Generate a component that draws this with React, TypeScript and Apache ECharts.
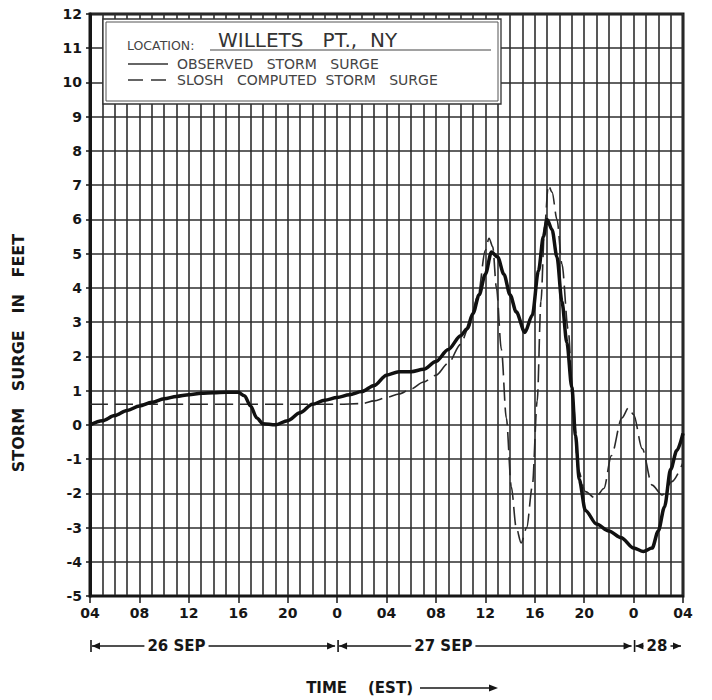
import React, { useEffect, useRef } from "react";
import * as echarts from "echarts";

// ---- data (hours after 04 EST, 26 Sep) ----
const xTickLabels = ["04", "08", "12", "16", "20", "0", "04", "08", "12", "16", "20", "0", "04"];
const yTickMin = -5;
const yTickMax = 12;

const observedHours = [0, 1, 2, 3, 4, 5, 6, 7, 8, 9, 10, 11, 12, 12.5, 13, 13.5, 14, 15, 16, 17, 18, 19, 20, 21, 22, 23, 24, 25, 26, 27, 28, 29, 30, 30.5, 31, 31.5, 32, 32.5, 33, 33.5, 34, 34.5, 35.2, 35.8, 36.3, 36.7, 37, 37.4, 37.8, 38.2, 38.6, 39, 39.3, 39.6, 40.1, 41, 42, 43, 44, 44.8, 45.5, 46, 46.5, 47, 47.5, 48];
const observedSurge = [0, 0.12, 0.27, 0.42, 0.55, 0.66, 0.76, 0.83, 0.88, 0.92, 0.94, 0.95, 0.95, 0.85, 0.55, 0.2, 0.03, 0.0, 0.12, 0.35, 0.6, 0.72, 0.8, 0.88, 0.97, 1.15, 1.45, 1.55, 1.55, 1.62, 1.85, 2.2, 2.6, 2.8, 3.25, 3.8, 4.4, 5.05, 4.9, 4.4, 3.8, 3.3, 2.7, 3.2, 4.5, 5.5, 6.0, 5.7, 4.9, 3.6, 2.4, 1.1, -0.3, -1.6, -2.5, -2.9, -3.1, -3.3, -3.6, -3.7, -3.6, -3.1, -2.4, -1.3, -0.75, -0.25];

const sloshHours = [0, 4, 8, 12, 16, 20, 22, 23, 24, 25, 26, 27, 28, 29, 30, 30.6, 31.4, 32, 32.3, 32.6, 32.9, 33.3, 33.7, 34.1, 34.5, 34.9, 35.35, 35.8, 36.2, 36.5, 36.8, 37.1, 37.4, 37.8, 38.2, 38.7, 39.1, 39.5, 40.1, 40.9, 41.6, 42.2, 43.05, 43.6, 44, 44.7, 45.5, 46.3, 47.1, 48];
const sloshSurge = [0.6, 0.6, 0.6, 0.6, 0.6, 0.6, 0.62, 0.7, 0.8, 0.9, 1.05, 1.25, 1.45, 1.8, 2.35, 2.8, 3.75, 5.1, 5.45, 5.2, 4.0, 2.2, 0.2, -1.8, -3.0, -3.45, -3.0, -1.8, 0.7, 3.6, 5.8, 7.0, 6.8, 6.0, 4.7, 2.8, 0.7, -1.3, -1.95, -2.14, -1.86, -0.9, 0.2, 0.5, 0.3, -0.7, -1.76, -2.05, -1.66, -1.1];

const dayLabels = ["26 SEP", "27 SEP", "28"];
const dayStartHours = [0, 20, 44];
const dayEndHours = [20, 44, 48];
const dayLabelHours = [7.0, 28.6, 45.9];

const FONT = "DejaVu Sans";
const INK = "#161616";

export default function App() {
  const ref = useRef<HTMLDivElement>(null);

  useEffect(() => {
    if (!ref.current) return;
    const chart = echarts.init(ref.current, null, { renderer: "svg" });

    const option: any = {
      animation: false,
      backgroundColor: "#ffffff",
      textStyle: { fontFamily: FONT },
      grid: {
        left: 90,
        top: 14,
        right: 29,
        bottom: 104,
        show: true,
        borderColor: INK,
        borderWidth: 3,
        backgroundColor: "transparent",
      },
      xAxis: {
        type: "value",
        min: 0,
        max: 48,
        interval: 4,
        axisLine: { show: true, onZero: false, lineStyle: { color: INK, width: 2 } },
        axisTick: { show: true, length: 7, lineStyle: { color: INK, width: 1.5 } },
        minorTick: { show: false, splitNumber: 4 },
        splitLine: { show: true, lineStyle: { color: "#2e2e2e", width: 1.6 } },
        minorSplitLine: { show: true, lineStyle: { color: "#2e2e2e", width: 1.6 } },
        axisLabel: {
          margin: 10,
          color: INK,
          fontSize: 14,
          fontWeight: "bold",
          fontFamily: FONT,
          formatter: (v: number) => xTickLabels[Math.round(v / 4)] ?? "",
        },
      },
      yAxis: {
        type: "value",
        min: yTickMin,
        max: yTickMax,
        interval: 1,
        axisLine: { show: true, lineStyle: { color: INK, width: 3 } },
        axisTick: { show: true, length: 4, lineStyle: { color: INK, width: 1.5 } },
        splitLine: { show: true, lineStyle: { color: "#2e2e2e", width: 1.6 } },
        axisLabel: {
          margin: 8,
          color: INK,
          fontSize: 14,
          fontWeight: "bold",
          fontFamily: FONT,
          formatter: (v: number) => String(v),
        },
      },
      series: [
        {
          name: "SLOSH COMPUTED STORM SURGE",
          type: "line",
          data: sloshHours.map((h, i) => [h, sloshSurge[i]]),
          showSymbol: false,
          smooth: 0.3,
          smoothMonotone: "x",
          lineStyle: { color: "#2a2a2a", width: 1.6, type: [18, 7] },
          z: 3,
        },
        {
          name: "OBSERVED STORM SURGE",
          type: "line",
          data: observedHours.map((h, i) => [h, observedSurge[i]]),
          showSymbol: false,
          smooth: 0.3,
          smoothMonotone: "x",
          lineStyle: { color: "#111", width: 3.5 },
          z: 4,
        },
      ],
    };
    chart.setOption(option);

    const px = (h: number) => (chart.convertToPixel({ gridIndex: 0 }, [h, 0]) as number[])[0];
    const elements: any[] = [];

    // y axis title
    elements.push({
      type: "text",
      x: 18,
      y: 353,
      rotation: Math.PI / 2,
      style: {
        text: "STORM   SURGE   IN   FEET",
        fill: INK,
        fontSize: 16,
        fontWeight: "bold",
        fontFamily: FONT,
        align: "center",
        verticalAlign: "middle",
      },
      z: 50,
    });

    // legend box
    elements.push({
      type: "rect",
      shape: { x: 103, y: 19, width: 398, height: 85 },
      style: { fill: "#ffffff", stroke: "#333", lineWidth: 1.3 },
      z: 100,
    });
    elements.push({
      type: "rect",
      shape: { x: 106, y: 22, width: 392, height: 79 },
      style: { fill: "none", stroke: "#555", lineWidth: 1 },
      z: 101,
    });
    elements.push({
      type: "text",
      x: 127,
      y: 45,
      style: { text: "LOCATION:", fill: "#444", fontSize: 12.5, fontFamily: FONT, verticalAlign: "middle" },
      z: 102,
    });
    elements.push({
      type: "text",
      x: 218,
      y: 40,
      style: { text: "WILLETS   PT.,  NY", fill: "#333", fontSize: 20, fontFamily: FONT, verticalAlign: "middle" },
      z: 102,
    });
    elements.push({
      type: "line",
      shape: { x1: 210, y1: 50, x2: 491, y2: 50 },
      style: { stroke: "#444", lineWidth: 1.2 },
      z: 102,
    });
    elements.push({
      type: "line",
      shape: { x1: 128, y1: 64, x2: 168, y2: 64 },
      style: { stroke: "#333", lineWidth: 1.4 },
      z: 102,
    });
    elements.push({
      type: "text",
      x: 177,
      y: 64,
      style: { text: "OBSERVED   STORM   SURGE", fill: "#444", fontSize: 14, fontFamily: FONT, verticalAlign: "middle" },
      z: 102,
    });
    elements.push({
      type: "line",
      shape: { x1: 128, y1: 80, x2: 168, y2: 80 },
      style: { stroke: "#333", lineWidth: 1.4, lineDash: [15, 8] },
      z: 102,
    });
    elements.push({
      type: "text",
      x: 177,
      y: 80,
      style: { text: "SLOSH   COMPUTED  STORM   SURGE", fill: "#444", fontSize: 14, fontFamily: FONT, verticalAlign: "middle" },
      z: 102,
    });

    // date row
    const ry = 646;
    const arrow = (x: number, dir: number) => ({
      type: "polygon",
      shape: { points: [[x, ry], [x - dir * 8, ry - 3.5], [x - dir * 8, ry + 3.5]] },
      style: { fill: INK },
      z: 50,
    });
    dayLabels.forEach((lab, i) => {
      const x0 = px(dayStartHours[i]) + 2;
      const x1 = px(dayEndHours[i]) - 2;
      elements.push({
        type: "line",
        shape: { x1: x0, y1: ry, x2: x1, y2: ry },
        style: { stroke: INK, lineWidth: 1.5 },
        z: 50,
      });
      elements.push(arrow(x0, -1));
      elements.push(arrow(x1, 1));
      elements.push({
        type: "text",
        x: px(dayLabelHours[i]),
        y: ry,
        style: {
          text: lab,
          fill: INK,
          fontSize: 15,
          fontWeight: "bold",
          fontFamily: FONT,
          align: "center",
          verticalAlign: "middle",
          backgroundColor: "#ffffff",
          padding: [0, 3],
        },
        z: 51,
      });
    });
    [0, 20, 44].forEach((h) => {
      const x = px(h) + 1;
      elements.push({
        type: "line",
        shape: { x1: x, y1: ry - 6, x2: x, y2: ry + 6 },
        style: { stroke: INK, lineWidth: 1.6 },
        z: 52,
      });
    });

    // TIME (EST) row
    const ty = 688;
    elements.push({
      type: "text",
      x: 413,
      y: ty,
      style: {
        text: "TIME    (EST)",
        fill: INK,
        fontSize: 15,
        fontWeight: "bold",
        fontFamily: FONT,
        align: "right",
        verticalAlign: "middle",
      },
      z: 50,
    });
    elements.push({
      type: "line",
      shape: { x1: 420, y1: ty, x2: 492, y2: ty },
      style: { stroke: INK, lineWidth: 1.5 },
      z: 50,
    });
    elements.push({
      type: "polygon",
      shape: { points: [[498, ty], [489, ty - 3.5], [489, ty + 3.5]] },
      style: { fill: INK },
      z: 50,
    });

    chart.setOption({ graphic: { elements } });

    return () => chart.dispose();
  }, []);

  return (
    <div
      ref={ref}
      style={{ position: "fixed", left: 0, top: 0, width: 712, height: 700, background: "#fff" }}
    />
  );
}
